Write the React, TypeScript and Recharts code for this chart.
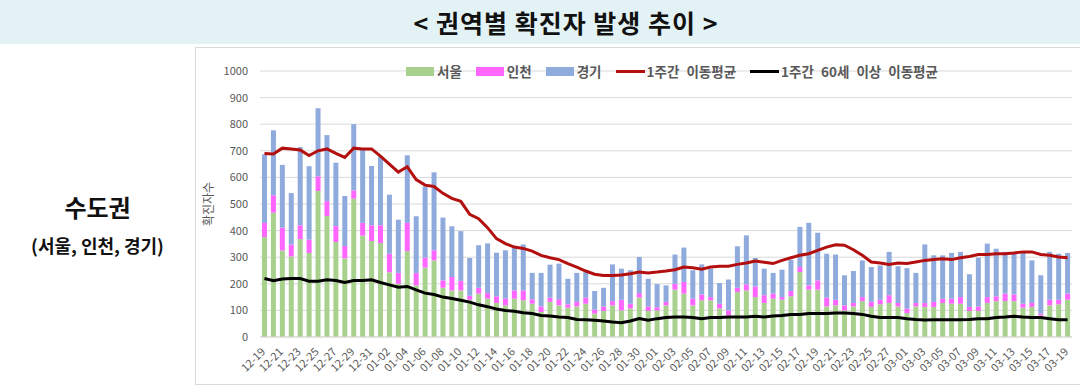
import React from "react";
import {
  ComposedChart,
  Bar,
  Line,
  XAxis,
  YAxis,
  CartesianGrid,
  Legend,
  Label,
} from "recharts";

const dates = [
  "12-19", "12-20", "12-21", "12-22", "12-23", "12-24", "12-25", "12-26", "12-27", "12-28",
  "12-29", "12-30", "12-31", "01-01", "01-02", "01-03", "01-04", "01-05", "01-06", "01-07",
  "01-08", "01-09", "01-10", "01-11", "01-12", "01-13", "01-14", "01-15", "01-16", "01-17",
  "01-18", "01-19", "01-20", "01-21", "01-22", "01-23", "01-24", "01-25", "01-26", "01-27",
  "01-28", "01-29", "01-30", "01-31", "02-01", "02-02", "02-03", "02-04", "02-05", "02-06",
  "02-07", "02-08", "02-09", "02-10", "02-11", "02-12", "02-13", "02-14", "02-15", "02-16",
  "02-17", "02-18", "02-19", "02-20", "02-21", "02-22", "02-23", "02-24", "02-25", "02-26",
  "02-27", "02-28", "03-01", "03-02", "03-03", "03-04", "03-05", "03-06", "03-07", "03-08",
  "03-09", "03-10", "03-11", "03-12", "03-13", "03-14", "03-15", "03-16", "03-17", "03-18",
  "03-19",
];

const seoul = [
  376, 467, 325, 303, 368, 316, 549, 455, 357, 296,
  520, 381, 361, 353, 243, 200, 323, 194, 261, 288,
  185, 175, 175, 140, 163, 144, 128, 119, 144, 138,
  125, 94, 132, 119, 110, 115, 125, 88, 98, 119,
  100, 107, 148, 98, 100, 119, 178, 163, 119, 138,
  138, 107, 81, 169, 175, 150, 128, 144, 140, 153,
  244, 178, 178, 115, 119, 100, 115, 135, 113, 123,
  128, 115, 90, 115, 113, 113, 128, 125, 125, 98,
  98, 128, 135, 135, 135, 110, 113, 81, 119, 123,
  140,
];

const incheon = [
  53, 66, 86, 45, 52, 50, 55, 56, 60, 46,
  31, 48, 59, 67, 70, 41, 106, 47, 37, 38,
  28, 51, 36, 15, 22, 21, 25, 26, 31, 37,
  17, 21, 16, 23, 13, 17, 23, 15, 17, 16,
  40, 18, 17, 17, 12, 13, 22, 44, 25, 22,
  12, 18, 19, 16, 23, 40, 29, 19, 10, 20,
  19, 16, 35, 33, 21, 19, 13, 15, 19, 17,
  29, 13, 17, 13, 15, 19, 16, 19, 25, 15,
  17, 22, 18, 28, 25, 15, 15, 7, 21, 17,
  23,
];

const gyeonggi = [
  258, 244, 236, 193, 294, 276, 256, 248, 238, 188,
  249, 275, 223, 259, 222, 200, 254, 213, 268, 293,
  236, 190, 187, 142, 160, 187, 164, 181, 161, 173,
  99, 126, 124, 134, 96, 109, 96, 70, 70, 138,
  117, 126, 136, 104, 87, 62, 110, 129, 107, 113,
  107, 78, 116, 156, 184, 107, 100, 78, 103, 117,
  151, 235, 179, 165, 170, 113, 120, 138, 131, 129,
  163, 138, 152, 113, 220, 175, 163, 172, 170, 123,
  183, 201, 179, 157, 160, 198, 160, 144, 180, 173,
  153,
];

const weeklyAvg = [
  690, 688, 710, 707, 703, 682, 700, 707, 690, 675,
  710, 707, 707, 680, 650, 620, 640, 592, 571, 566,
  540, 521, 510, 461, 445, 411, 370, 351, 338, 333,
  323, 307, 298, 291, 276, 263, 248, 236, 231, 231,
  233, 238, 244, 241, 244, 248, 253, 263, 260, 255,
  263, 266, 266, 273, 278, 286, 281, 276, 288, 298,
  307, 313, 326, 338, 347, 345, 328, 307, 282, 278,
  273, 278, 276, 282, 288, 291, 294, 291, 298, 303,
  310, 310, 313, 313, 316, 320, 320, 310, 307, 301,
  298,
];

const weeklyAvg60 = [
  220, 212, 218, 220, 220, 210, 210, 215, 212, 205,
  212, 212, 215, 205, 196, 187, 190, 177, 165, 160,
  150, 145, 138, 131, 121, 114, 105, 100, 97, 91,
  88, 81, 79, 75, 73, 66, 65, 63, 60, 56,
  54, 60, 69, 63, 69, 73, 75, 75, 73, 69,
  73, 73, 75, 75, 75, 78, 75, 79, 81, 85,
  85, 88, 88, 88, 90, 90, 88, 85, 78, 73,
  73, 73, 69, 66, 64, 65, 65, 65, 65, 66,
  69, 69, 73, 75, 78, 75, 73, 73, 69, 65,
  65,
];

const yTicks = [0, 100, 200, 300, 400, 500, 600, 700, 800, 900, 1000];

const legendOrder = ["서울", "인천", "경기", "1주간 이동평균", "1주간 60세 이상 이동평균"];

const data = dates.map((date, i) => ({
  date,
  seoul: seoul[i],
  incheon: incheon[i],
  gyeonggi: gyeonggi[i],
  avg: weeklyAvg[i],
  avg60: weeklyAvg60[i],
}));

const FONT = "'Noto Sans CJK KR', 'Noto Sans', sans-serif";
const GRAY = "#595959";

function DateTick({ x, y, payload }: any) {
  const ax = x - 2;
  const ay = y + 12;
  return (
    <text
      x={ax}
      y={ay}
      transform={`rotate(-45 ${ax} ${ay})`}
      textAnchor="end"
      dominantBaseline="central"
      fontSize={11}
      fontFamily={FONT}
      fill={GRAY}
    >
      {payload.value}
    </text>
  );
}

function YTitle({ viewBox }: any) {
  const x = viewBox.x + 12;
  const y = viewBox.y + viewBox.height / 2;
  return (
    <text
      x={x}
      y={y}
      transform={`rotate(-90 ${x} ${y})`}
      textAnchor="middle"
      dominantBaseline="central"
      fontSize={12}
      fontFamily={FONT}
      fill={GRAY}
    >
      확진자수
    </text>
  );
}

function LegendRow({ payload }: any) {
  const items = [...(payload || [])].sort(
    (a: any, b: any) => legendOrder.indexOf(a.value) - legendOrder.indexOf(b.value)
  );
  return (
    <div
      style={{
        display: "flex",
        alignItems: "center",
        height: 16,
        fontFamily: FONT,
        fontSize: 13.5,
        fontWeight: 700,
        color: GRAY,
        whiteSpace: "nowrap",
        wordSpacing: 4,
      }}
    >
      {items.map((item: any) => (
        <div
          key={item.value}
          style={{ display: "flex", alignItems: "center", marginRight: 14 }}
        >
          {item.type === "line" ? (
            <span
              style={{
                width: 29,
                height: 3,
                background: item.color,
                marginRight: 2,
              }}
            />
          ) : (
            <span
              style={{
                width: 28,
                height: 9,
                background: item.color,
                marginRight: 3,
              }}
            />
          )}
          <span>{item.value}</span>
        </div>
      ))}
    </div>
  );
}

export default function App() {
  return (
    <div
      style={{
        position: "absolute",
        left: 0,
        top: 0,
        width: 1080,
        height: 390,
        background: "#fff",
        overflow: "hidden",
        fontFamily: FONT,
      }}
    >
      <div
        style={{
          position: "absolute",
          left: 0,
          top: 0,
          width: 1080,
          height: 44,
          background: "#e3f2f4",
          display: "flex",
          alignItems: "center",
          justifyContent: "center",
          boxSizing: "border-box",
          paddingLeft: 52,
          fontSize: 25,
          fontWeight: 700,
          color: "#111",
          letterSpacing: 1,
        }}
      >
        &lt; 권역별 확진자 발생 추이 &gt;
      </div>

      <div
        style={{
          position: "absolute",
          left: 0,
          width: 195,
          top: 189,
          textAlign: "center",
          fontSize: 24,
          fontWeight: 700,
          color: "#111",
        }}
      >
        수도권
      </div>
      <div
        style={{
          position: "absolute",
          left: 0,
          width: 195,
          top: 232,
          textAlign: "center",
          fontSize: 18,
          fontWeight: 700,
          color: "#111",
        }}
      >
        (서울, 인천, 경기)
      </div>

      <div
        style={{
          position: "absolute",
          left: 195,
          top: 47,
          width: 900,
          height: 338,
          border: "1px solid #d9d9d9",
          boxSizing: "border-box",
        }}
      />

      <div style={{ position: "absolute", left: 195, top: 48 }}>
        <ComposedChart
          width={885}
          height={335}
          data={data}
          margin={{ top: 23, right: 8, left: 0, bottom: 0 }}
        >
          <CartesianGrid stroke="#d9d9d9" vertical={false} />
          <XAxis
            dataKey="date"
            interval={1}
            height={46}
            tickSize={0}
            tickMargin={0}
            tickLine={false}
            axisLine={{ stroke: "#d9d9d9" }}
            tick={<DateTick />}
          />
          <YAxis
            width={65}
            domain={[0, 1000]}
            ticks={yTicks}
            axisLine={false}
            tickLine={false}
            tickMargin={6}
            tick={{ fontSize: 11, fill: GRAY, fontFamily: FONT }}
          >
            <Label content={<YTitle />} />
          </YAxis>
          <Legend
            layout="horizontal"
            verticalAlign="middle"
            align="center"
            content={<LegendRow />}
            wrapperStyle={{ top: 15, left: 211, width: "auto", height: 16 }}
          />
          <Bar dataKey="seoul" name="서울" stackId="a" fill="#a9d18e" barSize={5} isAnimationActive={false} />
          <Bar dataKey="incheon" name="인천" stackId="a" fill="#ff66ff" barSize={5} isAnimationActive={false} />
          <Bar dataKey="gyeonggi" name="경기" stackId="a" fill="#8faadc" barSize={5} isAnimationActive={false} />
          <Line
            dataKey="avg"
            name="1주간 이동평균"
            type="linear"
            stroke="#b40f0f"
            strokeWidth={3}
            dot={false}
            activeDot={false}
            isAnimationActive={false}
          />
          <Line
            dataKey="avg60"
            name="1주간 60세 이상 이동평균"
            type="linear"
            stroke="#000000"
            strokeWidth={3}
            dot={false}
            activeDot={false}
            isAnimationActive={false}
          />
        </ComposedChart>
      </div>
    </div>
  );
}
